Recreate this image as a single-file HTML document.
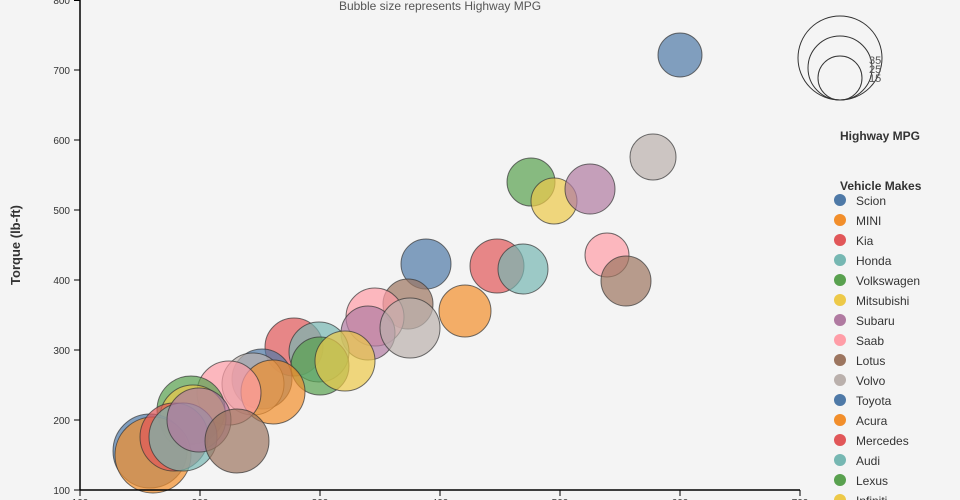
<!DOCTYPE html>
<html><head><style>
html,body{margin:0;padding:0;background:#f4f4f4;}
svg{display:block;font-family:"Liberation Sans",sans-serif;}
</style></head><body>
<svg width="960" height="500" viewBox="0 0 960 500">
<rect width="960" height="500" fill="#f4f4f4"/>
<text x="440" y="10" font-size="12" fill="#555" text-anchor="middle">Bubble size represents Highway MPG</text>
<g stroke="#333" stroke-opacity="0.7" fill-opacity="0.7" stroke-width="1">
<circle cx="680" cy="55" r="22" fill="#4e79a7"/>
<circle cx="653" cy="157" r="23" fill="#bab0ac"/>
<circle cx="531" cy="182" r="24" fill="#59a14f"/>
<circle cx="554" cy="201" r="23" fill="#edc948"/>
<circle cx="590" cy="189" r="25" fill="#b07aa1"/>
<circle cx="426" cy="264" r="25" fill="#4e79a7"/>
<circle cx="497" cy="266" r="27" fill="#e15759"/>
<circle cx="523" cy="269" r="25" fill="#76b7b2"/>
<circle cx="607" cy="255" r="22" fill="#ff9da7"/>
<circle cx="626" cy="281" r="25" fill="#9c755f"/>
<circle cx="465" cy="311" r="26" fill="#f28e2b"/>
<circle cx="408" cy="304" r="25" fill="#9c755f"/>
<circle cx="375" cy="317" r="29" fill="#ff9da7"/>
<circle cx="368" cy="333" r="27" fill="#b07aa1"/>
<circle cx="410" cy="328" r="30" fill="#bab0ac"/>
<circle cx="294" cy="347" r="29" fill="#e15759"/>
<circle cx="319" cy="352" r="30" fill="#76b7b2"/>
<circle cx="320" cy="366" r="29" fill="#59a14f"/>
<circle cx="345" cy="361" r="30" fill="#edc948"/>
<circle cx="262" cy="379" r="30" fill="#4e79a7"/>
<circle cx="253" cy="384" r="31" fill="#bab0ac"/>
<circle cx="273" cy="392" r="32" fill="#f28e2b"/>
<circle cx="229" cy="393" r="32" fill="#ff9da7"/>
<circle cx="191" cy="410" r="34" fill="#59a14f"/>
<circle cx="193" cy="418" r="33" fill="#edc948"/>
<circle cx="150" cy="451" r="37" fill="#4e79a7"/>
<circle cx="153" cy="455" r="38" fill="#f28e2b"/>
<circle cx="174" cy="437" r="34" fill="#e15759"/>
<circle cx="183" cy="437" r="34" fill="#76b7b2"/>
<circle cx="199" cy="420" r="32" fill="#b07aa1"/>
<circle cx="237" cy="441" r="32" fill="#9c755f"/>
</g>
<g stroke="#000" stroke-width="1.5" fill="none">
<line x1="80" y1="0" x2="80" y2="490"/>
<line x1="80" y1="490" x2="800" y2="490"/>
</g>
<g stroke="#000" stroke-width="1">
<line x1="74" y1="0.5" x2="80" y2="0.5"/><line x1="74" y1="70" x2="80" y2="70"/><line x1="74" y1="140" x2="80" y2="140"/><line x1="74" y1="210" x2="80" y2="210"/><line x1="74" y1="280" x2="80" y2="280"/><line x1="74" y1="350" x2="80" y2="350"/><line x1="74" y1="420" x2="80" y2="420"/><line x1="74" y1="490" x2="80" y2="490"/>
<line x1="80" y1="490" x2="80" y2="496"/><line x1="200" y1="490" x2="200" y2="496"/><line x1="320" y1="490" x2="320" y2="496"/><line x1="440" y1="490" x2="440" y2="496"/><line x1="560" y1="490" x2="560" y2="496"/><line x1="680" y1="490" x2="680" y2="496"/><line x1="800" y1="490" x2="800" y2="496"/>
</g>
<g font-size="10" fill="#333" text-anchor="end">
<text x="70" y="4">800</text><text x="70" y="74">700</text><text x="70" y="144">600</text><text x="70" y="214">500</text><text x="70" y="284">400</text><text x="70" y="354">300</text><text x="70" y="424">200</text><text x="70" y="494">100</text>
</g>
<g font-size="10" fill="#333" text-anchor="middle">
<text x="80" y="506">100</text><text x="200" y="506">200</text><text x="320" y="506">300</text><text x="440" y="506">400</text><text x="560" y="506">500</text><text x="680" y="506">600</text><text x="800" y="506">700</text>
</g>
<text transform="translate(20,245) rotate(-90)" font-size="13" font-weight="bold" fill="#333" text-anchor="middle">Torque (lb-ft)</text>
<g fill="none" stroke="#333" stroke-width="1">
<circle cx="840" cy="58" r="42"/><circle cx="840" cy="68" r="32"/><circle cx="840" cy="78" r="22"/>
</g>
<g font-size="11" fill="#555"><text x="869" y="64">35</text><text x="869" y="73">25</text><text x="869" y="82">15</text></g>
<text x="840" y="140" font-size="12" font-weight="bold" fill="#333">Highway MPG</text>
<text x="840" y="190" font-size="12" font-weight="bold" fill="#333">Vehicle Makes</text>
<g font-size="12" fill="#333">
<circle cx="840" cy="200" r="6" fill="#4e79a7"/><text x="856" y="205">Scion</text>
<circle cx="840" cy="220" r="6" fill="#f28e2b"/><text x="856" y="225">MINI</text>
<circle cx="840" cy="240" r="6" fill="#e15759"/><text x="856" y="245">Kia</text>
<circle cx="840" cy="260" r="6" fill="#76b7b2"/><text x="856" y="265">Honda</text>
<circle cx="840" cy="280" r="6" fill="#59a14f"/><text x="856" y="285">Volkswagen</text>
<circle cx="840" cy="300" r="6" fill="#edc948"/><text x="856" y="305">Mitsubishi</text>
<circle cx="840" cy="320" r="6" fill="#b07aa1"/><text x="856" y="325">Subaru</text>
<circle cx="840" cy="340" r="6" fill="#ff9da7"/><text x="856" y="345">Saab</text>
<circle cx="840" cy="360" r="6" fill="#9c755f"/><text x="856" y="365">Lotus</text>
<circle cx="840" cy="380" r="6" fill="#bab0ac"/><text x="856" y="385">Volvo</text>
<circle cx="840" cy="400" r="6" fill="#4e79a7"/><text x="856" y="405">Toyota</text>
<circle cx="840" cy="420" r="6" fill="#f28e2b"/><text x="856" y="425">Acura</text>
<circle cx="840" cy="440" r="6" fill="#e15759"/><text x="856" y="445">Mercedes</text>
<circle cx="840" cy="460" r="6" fill="#76b7b2"/><text x="856" y="465">Audi</text>
<circle cx="840" cy="480" r="6" fill="#59a14f"/><text x="856" y="485">Lexus</text>
<circle cx="840" cy="500" r="6" fill="#edc948"/><text x="856" y="505">Infiniti</text>
</g>
</svg>
</body></html>
